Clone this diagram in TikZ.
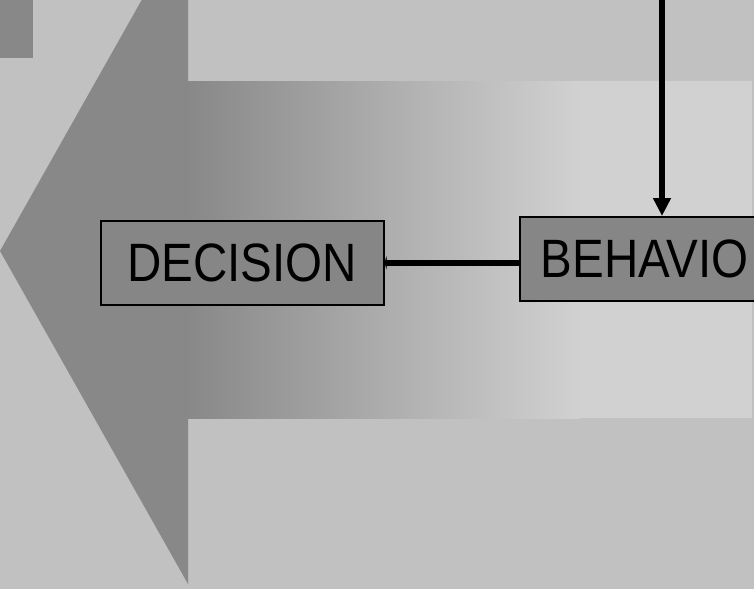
\documentclass[tikz,border=0pt]{standalone}
\usepackage{fontspec}
\newfontfamily\boxfont{Liberation Sans}[FakeStretch=0.88]
\usetikzlibrary{arrows.meta}
\definecolor{bg_gray}{HTML}{C1C1C1}
\definecolor{dark_gray}{HTML}{888888}
\definecolor{light_gray}{HTML}{D1D1D1}
\definecolor{box_gray}{HTML}{868686}
\tikzset{
  stage_n/.style = {draw=black, line width=1.5pt, fill=box_gray,
    inner xsep=21pt, inner ysep=0pt, minimum height=84pt, text=black,
    font=\boxfont\fontsize{54}{60}\selectfont},
  link/.style = {draw=black, line width=6pt}}

\begin{document}
\begin{tikzpicture}[x=1pt,y=-1pt]
\useasboundingbox (0,0) rectangle (754,589);
\clip (0,0) rectangle (754,589);
\fill[bg_gray] (0,0) rectangle (754,589);
\fill[dark_gray] (0,0) rectangle (33,58);

% big arrow pointing left
\fill[dark_gray] (0,251) -- (188,-82) -- (188,584) -- cycle;
\shade[left color=dark_gray, right color=light_gray] (187,81) rectangle (580,418);
\fill[light_gray] (579,81) rectangle (752,418);

\node [stage_n, minimum width=283pt, anchor=north west] (decision) at (100,220) {DECISION};
\node [stage_n, text width=250pt, align=left, anchor=north west] (behavior) at (519,216) {BEHAVIO};

\coordinate (top_in) at (662,-10);
\draw [link, -{Triangle[length=18pt,width=17pt]}] (top_in) -- (behavior.north -| top_in);
\draw [link, -{Triangle[length=2pt,width=13pt]}] (decision.east -| behavior.west) -- (decision.east);
\end{tikzpicture}
\end{document}
